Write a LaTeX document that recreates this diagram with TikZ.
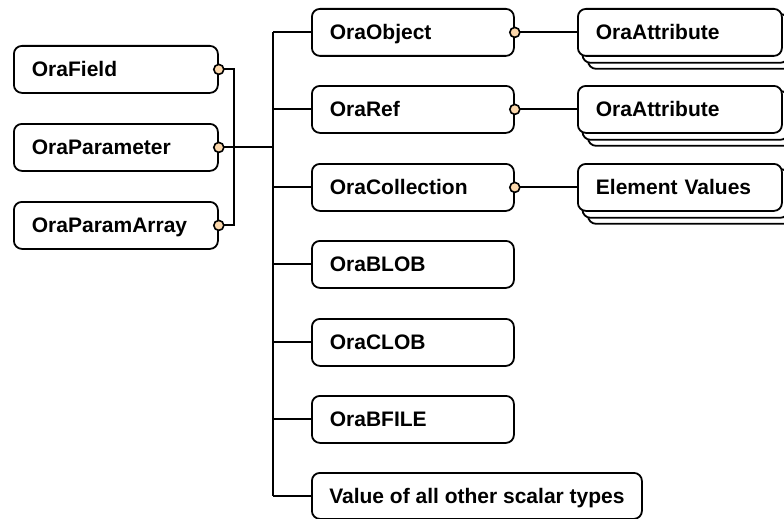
\documentclass[tikz,border=0pt]{standalone}
\usepackage{fontspec}
\setmainfont{Liberation Sans}
\usetikzlibrary{backgrounds}
\definecolor{peach}{RGB}{252,216,172}
\begin{document}
\begin{tikzpicture}[x=1pt,y=1pt,
  box/.style={draw, line width=1.8pt, rounded corners=8pt, fill=white,
    anchor=north west, minimum height=47pt, inner xsep=18pt, inner ysep=0pt,
    text height=15pt, text depth=0pt,
    font=\fontsize{21}{25}\selectfont\bfseries},
  wbox/.style={box, text width=#1, align=left},
  dot/.style={circle, draw, line width=1.6pt, fill=peach, minimum size=10pt, inner sep=0pt},
  conn/.style={line width=2pt}
]
\useasboundingbox (0,0) rectangle (784,-519);
% left boxes
\node[wbox=168pt] (field) at (13,-45) {OraField};
\node[wbox=168pt] (param) at (13,-123) {OraParameter};
\node[wbox=168pt] (arr) at (13,-201) {OraParamArray};
% middle boxes
\node[wbox=166pt] (obj) at (311,-8) {OraObject};
\node[wbox=166pt] (ref) at (311,-85) {OraRef};
\node[wbox=166pt] (coll) at (311,-163) {OraCollection};
\node[wbox=166pt] (blob) at (311,-240) {OraBLOB};
\node[wbox=166pt] (clob) at (311,-318) {OraCLOB};
\node[wbox=166pt] (bfile) at (311,-395) {OraBFILE};
\node[box, minimum width=330pt, inner xsep=12pt, minimum height=46pt] (other) at (311,-472) {Value of all other scalar types};
% right boxes
\node[wbox=168pt] (att1) at (577,-8) {OraAttribute};
\node[wbox=168pt] (att2) at (577,-85) {OraAttribute};
\node[wbox=168pt] (elem) at (577,-163) {Element Values};
% stacked copies
\begin{scope}[on background layer]
  \foreach \n in {att1,att2,elem}{
    \foreach \s in {2,1}{
      \draw[line width=1.8pt, rounded corners=8pt, fill=white]
        ([shift={(5.5*\s,-6*\s)}]\n.north west) rectangle ([shift={(5.5*\s,-6*\s)}]\n.south east);
    }
  }
\end{scope}
% trunk
\coordinate (ttop) at (273,0 |- obj.west);
\coordinate (tbot) at (273,0 |- other.west);
\coordinate (jx) at (234,0 |- param.east);
\draw[conn] (ttop) -- (tbot);
\foreach \n in {obj,ref,coll,blob,clob,bfile,other}{
  \draw[conn] (\n.west) -- (\n.west -| ttop);
}
\draw[conn] (field.east) -| (jx) |- (arr.east);
\draw[conn] (param.east) -- (param.east -| ttop);
\draw[conn] (obj.east) -- (att1.west);
\draw[conn] (ref.east) -- (att2.west);
\draw[conn] (coll.east) -- (elem.west);
\foreach \n in {field,param,arr,obj,ref,coll}{
  \node[dot] at (\n.east) {};
}
\end{tikzpicture}
\end{document}
